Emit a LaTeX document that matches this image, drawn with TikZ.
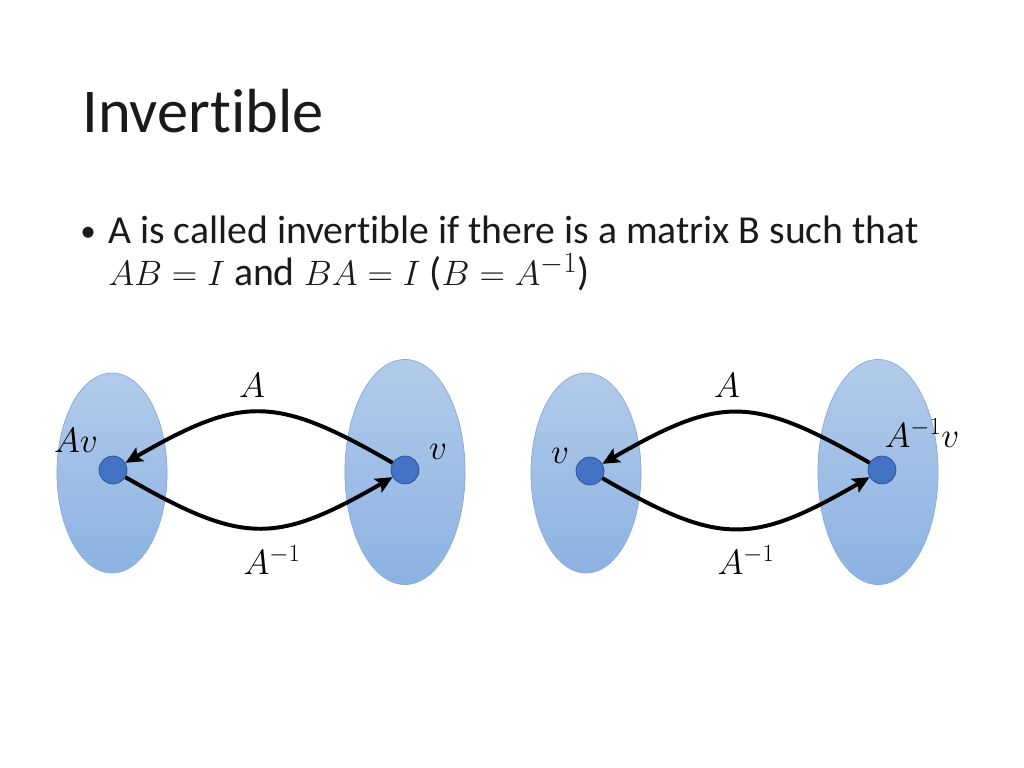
\documentclass[tikz,border=0pt]{standalone}
\usepackage{fontspec}
\setmainfont[Ligatures={NoCommon,NoRequired,NoContextual}]{Carlito}
\usetikzlibrary{arrows.meta,shapes.geometric}
\definecolor{settop}{HTML}{B2CBEA}
\definecolor{setbot}{HTML}{8CB2E2}
\definecolor{setedge}{HTML}{86AADA}
\definecolor{dotfill}{HTML}{4472C4}
\definecolor{dotedge}{HTML}{2F5597}
\definecolor{slidetext}{HTML}{1A1A1A}
\tikzset{
  setblob/.style={ellipse, draw=setedge, line width=0.5pt, top color=settop, bottom color=setbot, inner sep=0pt},
  smallset/.style={setblob, minimum width=2.73cm, minimum height=4.96cm},
  bigset/.style={setblob, minimum width=2.98cm, minimum height=5.58cm},
  vec/.style={circle, fill=dotfill, draw=dotedge, line width=0.6pt, minimum size=0.69cm, inner sep=0pt},
  map/.style={line width=2.8pt, -{Stealth[length=12pt,width=11pt,inset=2.5pt]}, looseness=1.3},
  lbl/.style={font=\fontsize{24}{28}\selectfont, inner sep=0pt},
  slide/.style={anchor=base west, inner sep=0pt, text=slidetext}
}
\begin{document}
\begin{tikzpicture}[x=0.0248cm, y=0.0248cm]
\useasboundingbox (0,0) rectangle (1024,-768);
% title and bullet
\node[slide, font=\fontsize{44}{52}\selectfont] (title) at (82,-133) {Invertible};
\node[slide, font=\fontsize{22}{26}\selectfont] (bullet) at (80,-241) {•};
\node[slide, font=\fontsize{28}{34}\selectfont] (line1) at (108,-243) {A is called invertible if there is a matrix B such that};
\node[slide, font=\fontsize{28}{34}\selectfont] (line2) at (108,-285) {$AB=I$ and $BA=I$ ($B=A^{-1}$)};

% A maps v to Av
\node[smallset] (setL) at (112,-473) {};
\node[bigset] (setR) at (405,-472) {};
\node[vec] (vL) at (113,-470) {};
\node[vec] (vR) at (405,-470) {};
\draw[map] (vR.150) to[out=150,in=30] (vL.30);
\draw[map] (vL.-30) to[out=-30,in=210] (vR.210);
\node[lbl] (upA) at (252,-385) {$A$};
\node[lbl] (downA) at (272,-560) {$A^{-1}$};
\node[lbl] (lblL) at (76,-440) {$Av$};
\node[lbl] (lblR) at (438,-452) {$v$};

% A^{-1} maps v to A^{-1}v
\node[smallset] (setL2) at (586,-473) {};
\node[bigset] (setR2) at (878,-472) {};
\node[vec] (vL2) at (590,-471) {};
\node[vec] (vR2) at (882,-470) {};
\draw[map] (vR2.150) to[out=150,in=30] (vL2.30);
\draw[map] (vL2.-30) to[out=-30,in=210] (vR2.210);
\node[lbl] (upA2) at (727,-385) {$A$};
\node[lbl] (downA2) at (746,-560) {$A^{-1}$};
\node[lbl] (lblL2) at (560,-456) {$v$};
\node[lbl] (lblR2) at (922,-433) {$A^{-1}v$};
\end{tikzpicture}
\end{document}
